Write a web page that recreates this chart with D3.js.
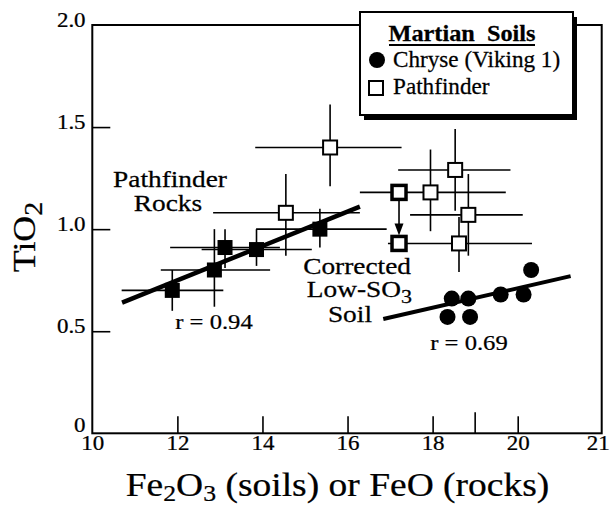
<!DOCTYPE html>
<html>
<head>
<meta charset="utf-8">
<script src="https://cdn.jsdelivr.net/npm/d3@7"></script>
<style>
  html, body { margin: 0; padding: 0; background: #fff; }
  svg { display: block; }
  text { font-family: "Liberation Serif", "Times New Roman", Times, serif; fill: #000; stroke: #000; stroke-width: 0.25px; }
</style>
</head>
<body>
<svg id="chart" width="610" height="506"></svg>
<script>
// ---- Pathfinder rocks (FeO vs TiO2), filled squares ----
const rockFeO    = [11.88, 12.87, 13.12, 13.86, 15.35];
const rockTiO2   = [0.70, 0.80, 0.91, 0.90, 1.00];
const rockFeOLo  = [10.69, 11.61, 11.83, 12.57, 13.85];
const rockFeOHi  = [13.08, 14.18, 14.41, 15.16, 16.92];
const rockTiO2Lo = [0.60, 0.62, 0.81, 0.82, 0.91];
const rockTiO2Hi = [0.80, 1.00, 1.00, 1.00, 1.10];

// ---- Pathfinder soils (Fe2O3 vs TiO2), open squares with error bars ----
const soilFe2O3   = [15.59, 14.55, 17.95, 18.62, 18.53, 18.84];
const soilTiO2    = [1.40, 1.08, 1.18, 0.93, 1.29, 1.07];
const soilFe2O3Lo = [13.83, 12.84, 16.29, 16.95, 17.19, 17.47];
const soilFe2O3Hi = [17.27, 16.29, 19.72, 20.17, 19.83, 20.06];
const soilTiO2Lo  = [1.21, 0.87, 0.99, 0.79, 1.09, 0.87];
const soilTiO2Hi  = [1.61, 1.27, 1.39, 1.06, 1.49, 1.27];

// ---- High-SO3 soil before and after correction (bold squares) ----
const sulfurSoilFe2O3 = [17.21, 17.21];
const sulfurSoilTiO2  = [1.18, 0.93];   // [measured, corrected]

// ---- Chryse (Viking 1) soils, filled circles ----
const chryseFe2O3 = [20.16, 18.45, 18.84, 19.60, 20.07, 18.35, 18.88];
const chryseTiO2  = [0.80, 0.66, 0.66, 0.68, 0.68, 0.57, 0.57];

// ---- Regression lines [start, end] ----
const rockFitFe  = [10.70, 16.29];
const rockFitTi  = [0.64, 1.11];
const soilFitFe  = [16.84, 20.63];
const soilFitTi  = [0.56, 0.77];

// ---- Axis ticks ----
const xTickValues = [10, 12, 14, 16, 18, 20, 21];
const xMinorTick  = [19];
const yTickValues = [0, 0.5, 1.0, 1.5, 2.0];

const svg = d3.select("#chart");
const SX = 1.12; // horizontal stretch applied to lettering

// Axis break: the final unit (20-21) is drawn twice as wide
const x = d3.scaleLinear().domain([10, 20, 21]).range([92.3, 517.7, 601.7]);
const y = d3.scaleLinear().domain([0, 2]).range([433.3, 25]);

function stretchedText(g, px, py, size, anchor, weight, sx) {
  return g.append("text")
    .attr("transform", `translate(${px},${py}) scale(${sx || SX},1)`)
    .attr("text-anchor", anchor)
    .style("font-size", size + "px")
    .style("font-weight", weight || "normal");
}

// ---- Frame ----
svg.append("rect")
  .attr("x", x(10)).attr("y", y(2))
  .attr("width", x(21) - x(10)).attr("height", y(0) - y(2))
  .attr("fill", "none").attr("stroke", "#000").attr("stroke-width", 2);

// ---- X axis (inward ticks) ----
const gx = svg.append("g")
  .attr("transform", `translate(0,${y(0)})`)
  .call(d3.axisBottom(x).tickValues(xTickValues).tickSizeInner(-17).tickSizeOuter(0).tickPadding(2)
    .tickFormat(d3.format("d")));
gx.select(".domain").remove();
gx.selectAll(".tick line").attr("stroke", "#000").attr("stroke-width", 1.6)
  .filter(d => d === 10 || d === 21).remove();
gx.selectAll(".tick text")
  .attr("transform", `scale(${SX},1)`)
  .style("font-family", '"Liberation Serif", "Times New Roman", serif')
  .style("font-size", "20.5px")
  .filter(d => d === 21).attr("x", -3.5);
gx.selectAll(".minor").data(xMinorTick).enter().append("line")
  .attr("x1", d => x(d)).attr("x2", d => x(d))
  .attr("y1", 0).attr("y2", -21)
  .attr("stroke", "#000").attr("stroke-width", 1.6);

// ---- Y axis (inward ticks) ----
const gy = svg.append("g")
  .attr("transform", `translate(${x(10)},0)`)
  .call(d3.axisLeft(y).tickValues(yTickValues).tickSizeInner(-18).tickSizeOuter(0).tickPadding(6)
    .tickFormat(d => d === 0 ? "0" : d3.format(".1f")(d)));
gy.select(".domain").remove();
gy.selectAll(".tick line").attr("stroke", "#000").attr("stroke-width", 1.6)
  .filter(d => d === 0 || d === 2).remove();
gy.selectAll(".tick text")
  .attr("transform", `scale(${SX},1)`)
  .attr("dy", "0.05em")
  .style("font-family", '"Liberation Serif", "Times New Roman", serif')
  .style("font-size", "20.5px");
gy.selectAll(".tick text").filter(d => d === 0).attr("dy", "-0.1em");

// ---- Axis titles ----
const xt = stretchedText(svg, 337.5, 496, 33.5, "middle");
xt.append("tspan").text("Fe");
xt.append("tspan").attr("dy", 4.5).style("font-size", "23px").text("2");
xt.append("tspan").attr("dy", -4.5).text("O");
xt.append("tspan").attr("dy", 4.5).style("font-size", "23px").text("3");
xt.append("tspan").attr("dy", -4.5).text(" (soils) or FeO (rocks)");

const yt = svg.append("text")
  .attr("transform", `translate(35,237) rotate(-90) scale(${SX},1)`)
  .attr("text-anchor", "middle").style("font-size", "32px");
yt.append("tspan").text("TiO");
yt.append("tspan").attr("dy", 7).style("font-size", "25px").text("2");

// ---- Error bars ----
const bars = svg.append("g").attr("stroke", "#000").attr("stroke-width", 1.6);
function errorBars(xs, ys, xLo, xHi, yLo, yHi) {
  xs.forEach((v, i) => {
    bars.append("line").attr("x1", x(xLo[i])).attr("x2", x(xHi[i]))
      .attr("y1", y(ys[i])).attr("y2", y(ys[i]));
    bars.append("line").attr("x1", x(v)).attr("x2", x(v))
      .attr("y1", y(yLo[i])).attr("y2", y(yHi[i]));
  });
}
errorBars(rockFeO, rockTiO2, rockFeOLo, rockFeOHi, rockTiO2Lo, rockTiO2Hi);
errorBars(soilFe2O3, soilTiO2, soilFe2O3Lo, soilFe2O3Hi, soilTiO2Lo, soilTiO2Hi);

// ---- Regression lines ----
svg.append("line")
  .attr("x1", x(rockFitFe[0])).attr("y1", y(rockFitTi[0]))
  .attr("x2", x(rockFitFe[1])).attr("y2", y(rockFitTi[1]))
  .attr("stroke", "#000").attr("stroke-width", 4.5);
svg.append("line")
  .attr("x1", x(soilFitFe[0])).attr("y1", y(soilFitTi[0]))
  .attr("x2", x(soilFitFe[1])).attr("y2", y(soilFitTi[1]))
  .attr("stroke", "#000").attr("stroke-width", 4);

// ---- Correction arrow ----
const ax = x(sulfurSoilFe2O3[0]);
const ay0 = y(sulfurSoilTiO2[0]) + 8;
const ay1 = y(sulfurSoilTiO2[1]) - 8;
svg.append("line").attr("x1", ax).attr("x2", ax).attr("y1", ay0).attr("y2", ay1 - 10)
  .attr("stroke", "#000").attr("stroke-width", 1.6);
svg.append("path")
  .attr("d", `M${ax - 4.5},${ay1 - 12} L${ax + 4.5},${ay1 - 12} L${ax},${ay1} Z`)
  .attr("fill", "#000");

// ---- Markers ----
const sq = 15;
svg.append("g").selectAll("rect").data(rockFeO).enter().append("rect")
  .attr("x", (d) => x(d) - sq / 2).attr("y", (d, i) => y(rockTiO2[i]) - sq / 2)
  .attr("width", sq).attr("height", sq).attr("fill", "#000");

svg.append("g").selectAll("rect").data(soilFe2O3).enter().append("rect")
  .attr("x", d => x(d) - 7).attr("y", (d, i) => y(soilTiO2[i]) - 7)
  .attr("width", 14).attr("height", 14)
  .attr("fill", "#fff").attr("stroke", "#000").attr("stroke-width", 2);

svg.append("g").selectAll("rect").data(sulfurSoilFe2O3).enter().append("rect")
  .attr("x", d => x(d) - 7).attr("y", (d, i) => y(sulfurSoilTiO2[i]) - 7)
  .attr("width", 14).attr("height", 14)
  .attr("fill", "#fff").attr("stroke", "#000").attr("stroke-width", 3.5);

svg.append("g").selectAll("circle").data(chryseFe2O3).enter().append("circle")
  .attr("cx", d => x(d)).attr("cy", (d, i) => y(chryseTiO2[i]))
  .attr("r", 8).attr("fill", "#000");

// ---- Annotations ----
const AS = 1.19;
stretchedText(svg, 170, 187, 23, "middle", null, AS).text("Pathfinder");
stretchedText(svg, 168, 211, 23, "middle", null, AS).text("Rocks");
stretchedText(svg, 214, 329, 22, "middle").text("r = 0.94");
stretchedText(svg, 469, 350, 22, "middle").text("r = 0.69");

stretchedText(svg, 411, 274, 23, "end", null, AS).text("Corrected");
const low = stretchedText(svg, 412, 297, 23, "end", null, AS);
low.append("tspan").text("Low-SO");
low.append("tspan").attr("dy", 6).style("font-size", "18.5px").text("3");
stretchedText(svg, 372, 322, 23, "end", null, AS).text("Soil");

// ---- Legend ----
const lg = svg.append("g");
lg.append("rect").attr("x", 364).attr("y", 17).attr("width", 213).attr("height", 103).attr("fill", "#000");
lg.append("rect").attr("x", 360).attr("y", 12).attr("width", 213).attr("height", 103)
  .attr("fill", "#fff").attr("stroke", "#000").attr("stroke-width", 2);
stretchedText(lg, 462, 41, 22.5, "middle", "bold", 1.08)
  .style("white-space", "pre").text("Martian  Soils");
lg.append("line").attr("x1", 389).attr("x2", 535).attr("y1", 45).attr("y2", 45)
  .attr("stroke", "#000").attr("stroke-width", 2);
lg.append("circle").attr("cx", 377).attr("cy", 60).attr("r", 8).attr("fill", "#000");
stretchedText(lg, 393, 66.5, 22.5, "start", null, 1.03).text("Chryse (Viking 1)");
lg.append("rect").attr("x", 369).attr("y", 81).attr("width", 14).attr("height", 14)
  .attr("fill", "#fff").attr("stroke", "#000").attr("stroke-width", 2);
stretchedText(lg, 393, 93.5, 22.5, "start", null, 1.03).text("Pathfinder");
</script>
</body>
</html>
